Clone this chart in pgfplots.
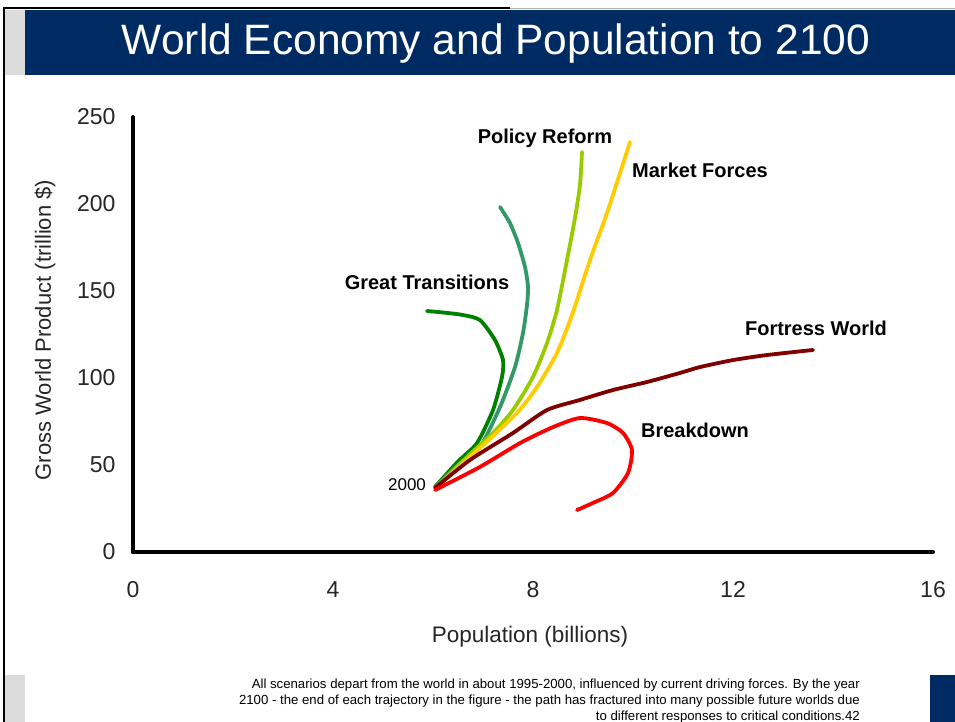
\documentclass[border=0pt]{standalone}
\usepackage{pgfplots}
\pgfplotsset{compat=1.18}
\usepackage{fontspec}
\setmainfont{Liberation Sans}
\definecolor{navy}{RGB}{0,42,98}
\definecolor{lgray}{RGB}{220,220,220}
\definecolor{gtgreen}{RGB}{0,128,0}
\definecolor{teal2}{RGB}{51,153,102}
\definecolor{prgreen}{RGB}{153,204,0}
\definecolor{mfgold}{RGB}{255,204,0}
\definecolor{fwred}{RGB}{128,0,0}
\definecolor{bdred}{RGB}{255,0,0}
\begin{document}
\begin{tikzpicture}[x=1pt,y=1pt]
\path[use as bounding box] (0,0) rectangle (955,722);
\fill[white] (0,0) rectangle (955,722);
% frame
\draw[black, line width=1.5pt] (4,0) -- (4,714) -- (510,714);
\draw[gray!60, line width=0.8pt] (510,714) -- (955,714);
% title bar
\fill[lgray] (5,647) rectangle (25,712);
\fill[navy] (25,647) rectangle (955,712);
\node[white, font=\fontsize{42.5}{42.5}\selectfont, anchor=base] at (496,667) {World Economy and Population to 2100};
% bottom boxes
\fill[lgray] (5,0) rectangle (25,47);
\fill[navy] (930,0) rectangle (955,47);
\begin{axis}[
  at={(133pt,170pt)}, anchor=south west,
  scale only axis, width=800pt, height=435pt,
  xmin=0, xmax=16, ymin=0, ymax=250,
  axis lines=left,
  axis line style={-, line width=4pt, line cap=round},
  xtick={0,4,8,12,16}, ytick={0,50,100,150,200,250},
  major tick length=0pt,
  /pgf/number format/assume math mode=true,
  tick label style={font=\fontsize{23}{23}\selectfont, text=black!85},
  xticklabel style={yshift=-26pt},
  yticklabel style={xshift=-14pt},
  clip=false,
  every axis plot/.append style={line width=3.8pt, line join=round, line cap=round, smooth, tension=0.4},
]
% Great Transitions (dark green)
\addplot[gtgreen] coordinates {(6.04,37.4) (6.50,52) (6.88,62.6) (7.20,81.6) (7.38,100.6) (7.40,110.3) (7.24,121.8) (6.94,133.3) (6.60,136.2) (6.28,137.4) (5.88,138.5)};
% teal
\addplot[teal2] coordinates {(6.04,37.4) (6.50,50) (6.94,60.3) (7.34,83.3) (7.64,106.3) (7.80,125.9) (7.88,142) (7.90,152.3) (7.84,163.8) (7.70,177.6) (7.54,189) (7.34,198.3)};
% Policy Reform
\addplot[prgreen] coordinates {(6.08,37.4) (6.68,54.6) (7.20,68.4) (7.60,81.6) (8.00,100.6) (8.28,120.1) (8.48,139.1) (8.68,167.8) (8.84,192) (8.94,211) (8.98,229.9)};
% Market Forces
\addplot[mfgold] coordinates {(6.08,37.4) (6.94,59.8) (7.68,79.9) (8.08,94.8) (8.48,114.4) (8.78,136.2) (9.14,167.8) (9.48,194.8) (9.74,217.8) (9.94,235.6)};
% Fortress World
\addplot[fwred] coordinates {(6.04,36.8) (6.74,52.9) (7.60,68.4) (8.28,81.6) (8.94,87.4) (9.60,93.1) (10.28,97.7) (10.94,102.9) (11.34,106.3) (12.00,110.3) (12.68,113.2) (13.60,116.1)};
% Breakdown
\addplot[bdred] coordinates {(6.04,35.6) (6.94,48.9) (7.74,62.6) (8.40,71.8) (8.94,77.0) (9.48,74.1) (9.80,68.4) (9.98,58.6) (9.90,45.4) (9.60,33.9) (9.20,28.2) (8.88,24.1)};
\end{axis}
% axis titles
\node[font=\fontsize{22.5}{22.5}\selectfont, text=black!85] at (530,85) {Population (billions)};
\node[font=\fontsize{22}{22}\selectfont, text=black!85, rotate=90] at (45,392) {Gross World Product (trillion \$)};
% curve labels
\begin{scope}[every node/.style={font=\fontsize{20}{20}\selectfont\bfseries}]
\node at (545,584) {Policy Reform};
\node at (700,552) {Market Forces};
\node at (427,440) {Great Transitions};
\node at (816,394) {Fortress World};
\node at (695,292) {Breakdown};
\end{scope}
\node[font=\fontsize{17}{17}\selectfont] at (407,237) {2000};
% footnote
\node[anchor=north east, align=right, font=\fontsize{13.2}{16}\selectfont, inner sep=0pt] at (860,43)
 {All scenarios depart from the world in about 1995-2000, influenced by current driving forces. By the year\\
  2100 - the end of each trajectory in the figure - the path has fractured into many possible future worlds due\\
  to different responses to critical conditions.42};
\end{tikzpicture}
\end{document}
